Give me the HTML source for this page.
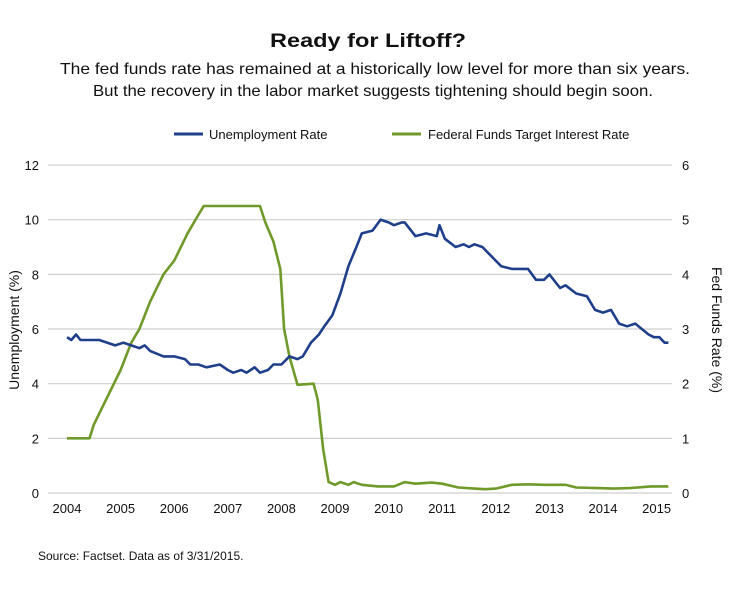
<!DOCTYPE html>
<html><head><meta charset="utf-8"><style>
body{margin:0;background:#fff;width:735px;height:588px;overflow:hidden}
text{font-family:"Liberation Sans",Arial,sans-serif;fill:#111}
</style></head><body>
<svg id="s" width="735" height="588" xmlns="http://www.w3.org/2000/svg">
<text x="368" y="47" text-anchor="middle" font-size="19" font-weight="bold" textLength="196" lengthAdjust="spacingAndGlyphs">Ready for Liftoff?</text>
<text x="375" y="74" text-anchor="middle" font-size="16" textLength="630" lengthAdjust="spacingAndGlyphs">The fed funds rate has remained at a historically low level for more than six years.</text>
<text x="373" y="96" text-anchor="middle" font-size="16" textLength="560" lengthAdjust="spacingAndGlyphs">But the recovery in the labor market suggests tightening should begin soon.</text>
<line x1="174" y1="134" x2="203" y2="134" stroke="#1f3f8a" stroke-width="3"/>
<text x="209" y="139" font-size="13">Unemployment Rate</text>
<line x1="392" y1="134" x2="421" y2="134" stroke="#6f9a2a" stroke-width="3"/>
<text x="428" y="139" font-size="13">Federal Funds Target Interest Rate</text>
<g id="grid" stroke="#cfcfcf" stroke-width="1.2"></g>
<g id="lab" font-size="13"></g>
<text transform="translate(19,330) rotate(-90)" text-anchor="middle" font-size="14">Unemployment (%)</text>
<text transform="translate(712,330) rotate(90)" text-anchor="middle" font-size="14">Fed Funds Rate (%)</text>
<path id="g" fill="none" stroke="#6f9a2a" stroke-width="2.6" stroke-linejoin="round"/>
<path id="b" fill="none" stroke="#1f3f8a" stroke-width="2.6" stroke-linejoin="round"/>
<text x="38" y="560" font-size="12">Source: Factset. Data as of 3/31/2015.</text>
</svg>
<script>
var NS="http://www.w3.org/2000/svg";
function X(t){return 67+(t-2004)*53.6}
function YL(v){return 493-v*27.33}
function YR(v){return 493-v*54.67}
var grid=document.getElementById('grid'),lab=document.getElementById('lab');
for(var i=0;i<=6;i++){var y=YL(i*2);
var l=document.createElementNS(NS,'line');l.setAttribute('x1',48);l.setAttribute('x2',672);l.setAttribute('y1',y);l.setAttribute('y2',y);grid.appendChild(l);
var t=document.createElementNS(NS,'text');t.setAttribute('x',39);t.setAttribute('y',y+5);t.setAttribute('text-anchor','end');t.textContent=i*2;lab.appendChild(t);
t=document.createElementNS(NS,'text');t.setAttribute('x',682);t.setAttribute('y',y+5);t.textContent=i;lab.appendChild(t);}
for(var yr=2004;yr<=2015;yr++){var t=document.createElementNS(NS,'text');t.setAttribute('x',X(yr));t.setAttribute('y',513);t.setAttribute('text-anchor','middle');t.textContent=yr;lab.appendChild(t);}
var U=[[2004,5.7],[2004.08,5.6],[2004.17,5.8],[2004.25,5.6],[2004.6,5.6],[2004.9,5.4],[2005.05,5.5],[2005.2,5.4],[2005.35,5.3],[2005.45,5.4],[2005.55,5.2],[2005.8,5.0],[2006.0,5.0],[2006.2,4.9],[2006.3,4.7],[2006.45,4.7],[2006.6,4.6],[2006.85,4.7],[2007.0,4.5],[2007.1,4.4],[2007.25,4.5],[2007.35,4.4],[2007.5,4.6],[2007.6,4.4],[2007.75,4.5],[2007.85,4.7],[2008.0,4.7],[2008.15,5.0],[2008.3,4.9],[2008.4,5.0],[2008.55,5.5],[2008.7,5.8],[2008.8,6.1],[2008.95,6.5],[2009.1,7.3],[2009.25,8.3],[2009.4,9.0],[2009.5,9.5],[2009.7,9.6],[2009.85,10.0],[2010.0,9.9],[2010.1,9.8],[2010.25,9.9],[2010.3,9.9],[2010.5,9.4],[2010.7,9.5],[2010.9,9.4],[2010.95,9.8],[2011.05,9.3],[2011.25,9.0],[2011.4,9.1],[2011.5,9.0],[2011.6,9.1],[2011.75,9.0],[2011.95,8.6],[2012.1,8.3],[2012.3,8.2],[2012.6,8.2],[2012.75,7.8],[2012.9,7.8],[2013.0,8.0],[2013.2,7.5],[2013.3,7.6],[2013.5,7.3],[2013.7,7.2],[2013.85,6.7],[2014.0,6.6],[2014.15,6.7],[2014.3,6.2],[2014.45,6.1],[2014.6,6.2],[2014.85,5.8],[2014.95,5.7],[2015.05,5.7],[2015.15,5.5],[2015.22,5.5]];
var F=[[2004,1.0],[2004.42,1.0],[2004.5,1.25],[2004.75,1.75],[2005.0,2.25],[2005.2,2.75],[2005.35,3.0],[2005.55,3.5],[2005.8,4.0],[2006.0,4.25],[2006.25,4.75],[2006.4,5.0],[2006.55,5.25],[2007.6,5.25],[2007.7,4.95],[2007.85,4.6],[2007.98,4.1],[2008.05,3.0],[2008.15,2.5],[2008.3,1.98],[2008.6,2.0],[2008.68,1.7],[2008.78,0.8],[2008.88,0.2],[2009.0,0.15],[2009.1,0.2],[2009.25,0.15],[2009.35,0.2],[2009.5,0.15],[2009.8,0.12],[2010.1,0.12],[2010.3,0.2],[2010.5,0.17],[2010.8,0.19],[2011.0,0.17],[2011.3,0.1],[2011.6,0.08],[2011.8,0.07],[2012.0,0.08],[2012.3,0.15],[2012.6,0.16],[2012.9,0.15],[2013.3,0.15],[2013.5,0.1],[2013.9,0.09],[2014.2,0.08],[2014.5,0.09],[2014.9,0.12],[2015.22,0.12]];
function path(a,Y){return a.map(function(p,i){return (i?'L':'M')+X(p[0]).toFixed(1)+','+Y(p[1]).toFixed(1)}).join('')}
document.getElementById('b').setAttribute('d',path(U,YL));
document.getElementById('g').setAttribute('d',path(F,YR));
</script>
</body></html>
